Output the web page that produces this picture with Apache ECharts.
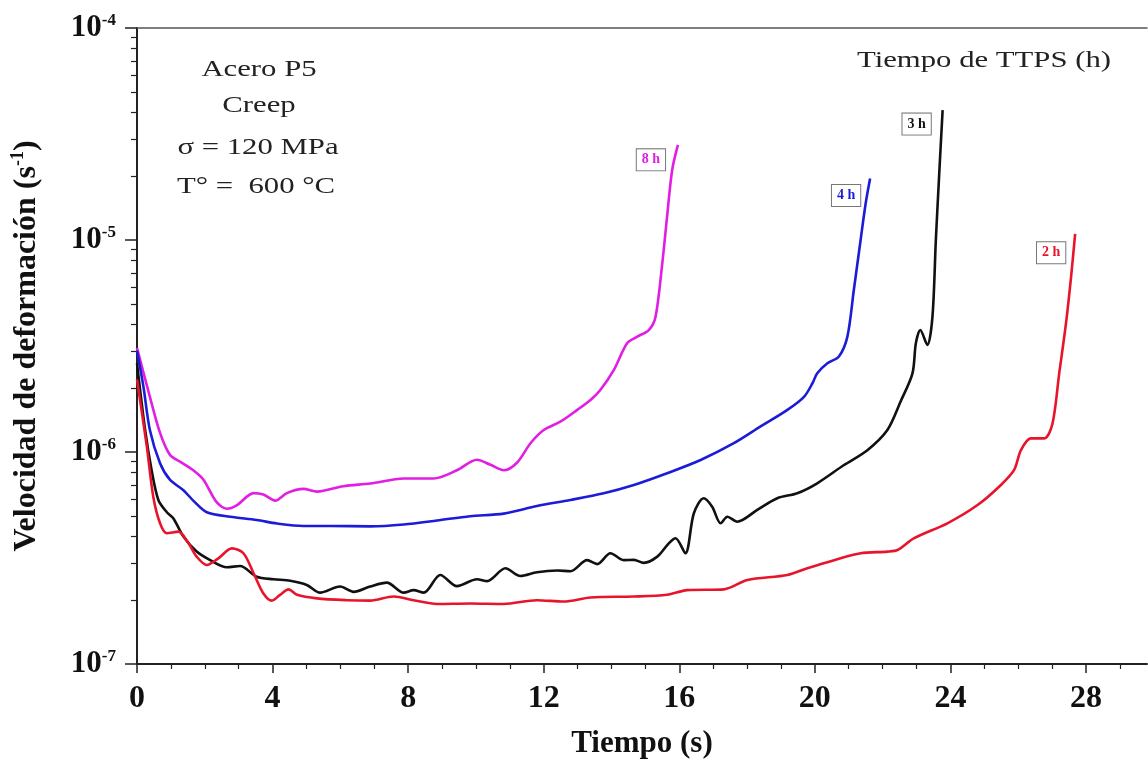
<!DOCTYPE html>
<html>
<head>
<meta charset="utf-8">
<script src="https://cdn.jsdelivr.net/npm/echarts@6/dist/echarts.min.js"></script>
<style>
  html, body { margin: 0; padding: 0; background: #fff; }
  #chart { width: 1148px; height: 764px; }
</style>
</head>
<body>
<div id="chart"></div>
<script>
// Tiempo de TTPS = 8 h
const t8 = [0, 0.38, 0.68, 0.97, 1.27, 1.66, 1.96, 2.35, 2.65, 2.94, 3.44, 3.73, 4.08, 4.42, 4.91, 5.31, 6.09, 6.88, 7.87, 8.75, 9.44, 10.03, 10.43, 10.82, 11.21, 11.61, 12.0, 12.49, 12.99, 13.38, 13.67, 14.07, 14.46, 14.76, 15.10, 15.30, 15.50, 15.64, 15.79, 15.96];
const v8 = [3.1e-6, 1.82e-6, 1.23e-6, 9.7e-7, 9.0e-7, 8.2e-7, 7.4e-7, 5.8e-7, 5.4e-7, 5.6e-7, 6.4e-7, 6.3e-7, 5.9e-7, 6.4e-7, 6.7e-7, 6.5e-7, 6.9e-7, 7.1e-7, 7.5e-7, 7.5e-7, 8.2e-7, 9.2e-7, 8.7e-7, 8.2e-7, 8.9e-7, 1.10e-6, 1.27e-6, 1.39e-6, 1.58e-6, 1.76e-6, 1.96e-6, 2.44e-6, 3.26e-6, 3.50e-6, 3.76e-6, 4.35e-6, 7.8e-6, 1.29e-5, 2.14e-5, 2.81e-5];

// 4 h
const t4 = [0, 0.19, 0.38, 0.68, 0.97, 1.37, 1.66, 2.06, 2.75, 3.53, 4.13, 4.91, 5.7, 6.88, 7.87, 8.85, 9.83, 10.82, 11.80, 12.79, 13.77, 14.66, 15.64, 16.63, 17.61, 18.40, 19.19, 19.68, 19.93, 20.07, 20.37, 20.71, 20.96, 21.15, 21.35, 21.50, 21.63];
const v4 = [3.0e-6, 2.03e-6, 1.27e-6, 8.85e-7, 7.4e-7, 6.6e-7, 5.9e-7, 5.2e-7, 4.95e-7, 4.78e-7, 4.6e-7, 4.48e-7, 4.48e-7, 4.46e-7, 4.55e-7, 4.75e-7, 4.98e-7, 5.12e-7, 5.56e-7, 5.94e-7, 6.39e-7, 6.99e-7, 7.94e-7, 9.17e-7, 1.10e-6, 1.32e-6, 1.58e-6, 1.82e-6, 2.11e-6, 2.35e-6, 2.62e-6, 2.82e-6, 3.50e-6, 5.81e-6, 1.0e-5, 1.49e-5, 1.95e-5];

// 3 h
const t3 = [0, 0.24, 0.43, 0.63, 0.88, 1.07, 1.37, 1.76, 2.16, 2.65, 3.04, 3.53, 4.03, 4.52, 5.01, 5.40, 5.99, 6.39, 6.88, 7.37, 7.87, 8.16, 8.46, 8.95, 9.44, 10.03, 10.33, 10.87, 11.31, 11.80, 12.40, 12.79, 13.28, 13.58, 13.97, 14.36, 14.66, 14.95, 15.35, 15.69, 15.89, 16.18, 16.43, 16.72, 16.97, 17.22, 17.42, 17.71, 18.30, 18.89, 19.48, 20.07, 20.86, 21.55, 22.14, 22.53, 22.88, 22.98, 23.11, 23.32, 23.47, 23.57, 23.67, 23.77];
const v3 = [2.62e-6, 1.27e-6, 8.23e-7, 5.94e-7, 5.2e-7, 4.87e-7, 3.99e-7, 3.39e-7, 3.09e-7, 2.86e-7, 2.90e-7, 2.58e-7, 2.51e-7, 2.47e-7, 2.36e-7, 2.17e-7, 2.32e-7, 2.19e-7, 2.32e-7, 2.42e-7, 2.17e-7, 2.23e-7, 2.17e-7, 2.63e-7, 2.33e-7, 2.51e-7, 2.46e-7, 2.83e-7, 2.60e-7, 2.71e-7, 2.76e-7, 2.74e-7, 3.09e-7, 2.96e-7, 3.33e-7, 3.09e-7, 3.10e-7, 3.0e-7, 3.21e-7, 3.71e-7, 3.92e-7, 3.33e-7, 5.14e-7, 6.05e-7, 5.52e-7, 4.61e-7, 4.95e-7, 4.69e-7, 5.33e-7, 6.05e-7, 6.39e-7, 7.12e-7, 8.68e-7, 1.02e-6, 1.27e-6, 1.73e-6, 2.35e-6, 3.26e-6, 3.76e-6, 3.20e-6, 4.35e-6, 1.0e-5, 2.06e-5, 4.10e-5];

// 2 h
const t2 = [0, 0.29, 0.48, 0.68, 0.88, 1.22, 1.52, 1.76, 2.06, 2.40, 2.80, 3.14, 3.44, 3.73, 3.98, 4.22, 4.47, 4.72, 5.31, 6.19, 6.88, 7.57, 8.16, 8.85, 9.83, 10.82, 11.8, 12.59, 13.38, 14.66, 15.64, 16.23, 17.32, 18.01, 19.19, 19.78, 20.57, 21.35, 22.14, 22.44, 22.93, 23.91, 24.80, 25.49, 25.88, 26.08, 26.37, 26.77, 27.01, 27.21, 27.41, 27.55, 27.68];
const v2 = [2.2e-6, 1.06e-6, 6.15e-7, 4.61e-7, 4.14e-7, 4.21e-7, 3.71e-7, 3.21e-7, 2.93e-7, 3.15e-7, 3.51e-7, 3.33e-7, 2.68e-7, 2.15e-7, 1.99e-7, 2.12e-7, 2.25e-7, 2.12e-7, 2.04e-7, 2.0e-7, 1.99e-7, 2.08e-7, 2.0e-7, 1.92e-7, 1.93e-7, 1.92e-7, 2.0e-7, 1.97e-7, 2.06e-7, 2.08e-7, 2.12e-7, 2.23e-7, 2.25e-7, 2.49e-7, 2.63e-7, 2.83e-7, 3.09e-7, 3.33e-7, 3.39e-7, 3.45e-7, 3.92e-7, 4.61e-7, 5.62e-7, 6.99e-7, 8.23e-7, 1.02e-6, 1.16e-6, 1.16e-6, 1.36e-6, 2.35e-6, 4.05e-6, 6.47e-6, 1.07e-5];

const xMajor = [0, 4, 8, 12, 16, 20, 24, 28];
const xMinor = [1, 2, 3, 5, 6, 7, 9, 10, 11, 13, 14, 15, 17, 18, 19, 21, 22, 23, 25, 26, 27, 29];

// minor log ticks 2..9 x 10^n
const yMinor = [];
for (let e = -7; e < -4; e++) {
  for (let k = 2; k <= 9; k++) yMinor.push(k * Math.pow(10, e));
}

const SERIF = '"Liberation Serif", "DejaVu Serif", serif';
const X_MAX = 29.8; // the plot is cut at the right edge of the picture

function pairs(t, v) {
  return t.map((x, i) => [x, v[i]]);
}

function curve(name, t, v, color, labelOffset) {
  const last = t.length - 1;
  return {
    name,
    type: 'line',
    data: pairs(t, v),
    smooth: 0.3,
    showSymbol: false,
    lineStyle: { color, width: 2.6 },
    markPoint: {
      silent: true,
      symbol: 'circle',
      symbolSize: 1,
      itemStyle: { color: 'transparent' },
      label: {
        show: true,
        position: 'inside',
        offset: labelOffset,
        formatter: name,
        color,
        fontFamily: SERIF,
        fontWeight: 'bold',
        fontSize: 14,
        backgroundColor: '#fff',
        borderColor: '#777',
        borderWidth: 1,
        padding: [4, 5, 3, 5],
      },
      data: [{ coord: [t[last], v[last]] }],
    },
  };
}

function note(text, x, y) {
  return {
    type: 'text', x, y, scaleX: 1.28,
    style: { text, font: `24px ${SERIF}`, fill: '#222', align: 'center', verticalAlign: 'middle' },
  };
}

const chart = echarts.init(document.getElementById('chart'), null, { renderer: 'canvas' });

chart.setOption({
  backgroundColor: '#fff',
  animation: false,
  grid: { left: 137, top: 28, width: 1010, height: 636 },
  xAxis: [
    {
      type: 'value', min: 0, max: X_MAX,
      name: 'Tiempo (s)',
      nameLocation: 'middle',
      nameGap: 64,
      nameTextStyle: { fontFamily: SERIF, fontWeight: 'bold', fontSize: 31, color: '#111' },
      axisLine: { lineStyle: { color: '#222', width: 2 } },
      axisTick: { customValues: xMajor, length: 9, lineStyle: { color: '#222', width: 1.5 } },
      axisLabel: {
        customValues: xMajor, margin: 19,
        fontFamily: SERIF, fontWeight: 'bold', fontSize: 32, color: '#111',
      },
      splitLine: { show: false },
    },
    {
      type: 'value', min: 0, max: X_MAX, position: 'bottom',
      axisLine: { show: false },
      axisTick: { customValues: xMinor, length: 5, lineStyle: { color: '#222', width: 1.2 } },
      axisLabel: { show: false },
      splitLine: { show: false },
    },
    {
      type: 'value', min: 0, max: X_MAX, position: 'top',
      axisLine: { lineStyle: { color: '#555', width: 1.5 } },
      axisTick: { show: false },
      axisLabel: { show: false },
      splitLine: { show: false },
    },
  ],
  yAxis: [
    {
      type: 'log', logBase: 10, min: 1e-7, max: 1e-4,
      name: '{t|Velocidad de deformación (s}{s|-1}{t|)}',
      nameLocation: 'middle',
      nameGap: 92,
      nameRotate: 90,
      nameTextStyle: {
        rich: {
          t: { fontFamily: SERIF, fontWeight: 'bold', fontSize: 32, color: '#111', lineHeight: 36 },
          s: { fontFamily: SERIF, fontWeight: 'bold', fontSize: 18, color: '#111', verticalAlign: 'top', lineHeight: 20 },
        },
      },
      axisLine: { lineStyle: { color: '#222', width: 2 } },
      axisTick: { length: 12, lineStyle: { color: '#222', width: 1.5 } },
      axisLabel: {
        margin: 21,
        formatter: (val) => `{b|10}{s|${Math.round(Math.log10(val))}}`,
        rich: {
          b: { fontFamily: SERIF, fontWeight: 'bold', fontSize: 31, color: '#111', lineHeight: 32 },
          s: { fontFamily: SERIF, fontWeight: 'bold', fontSize: 17, color: '#111', verticalAlign: 'top', lineHeight: 17 },
        },
      },
      splitLine: { show: false },
    },
    {
      type: 'log', logBase: 10, min: 1e-7, max: 1e-4, position: 'left',
      axisLine: { show: false },
      axisTick: { customValues: yMinor, length: 6, lineStyle: { color: '#222', width: 1.2 } },
      axisLabel: { show: false },
      splitLine: { show: false },
    },
  ],
  graphic: [
    note('Acero P5', 259, 70),
    note('Creep', 259, 106),
    note('σ = 120 MPa', 258, 148),
    note('T° =  600 °C', 256, 187),
    note('Tiempo de TTPS (h)', 984, 61),
  ],
  series: [
    curve('8 h', t8, v8, '#e21ee2', [-27, 15]),
    curve('4 h', t4, v4, '#1c1cd8', [-24, 17]),
    curve('3 h', t3, v3, '#111111', [-26, 14]),
    curve('2 h', t2, v2, '#e8142c', [-24, 19]),
  ],
});
</script>
</body>
</html>
